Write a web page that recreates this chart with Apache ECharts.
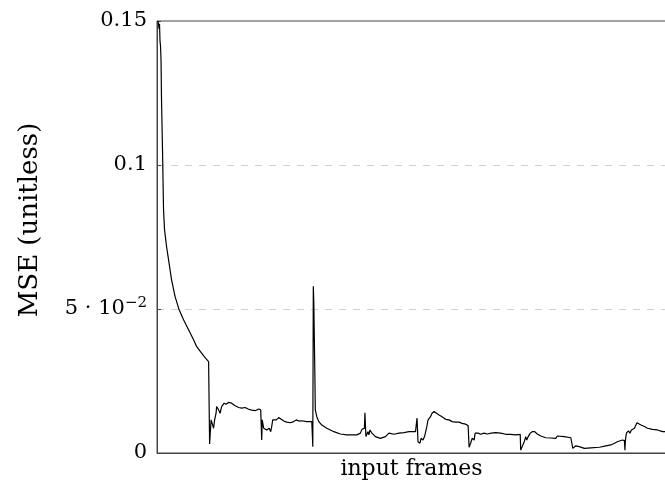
<!DOCTYPE html>
<html>
<head>
<meta charset="utf-8">
<script src="https://cdn.jsdelivr.net/npm/echarts@6/dist/echarts.min.js"></script>
<style>html,body{margin:0;padding:0;background:#fff}#c{width:665px;height:485px}</style>
</head>
<body>
<div id="c"></div>
<script>
// Frame index (horizontal position) and MSE value
const frames = [2,3,4,5,6,7,8,9,11,12,13,15,16,19,24,29,36,44,53,63,73,79,89,96,103,
105,108,111,113,115,118,119,123,126,129,131,134,138,143,146,149,156,163,169,176,183,189,196,203,207,
209,210,213,216,219,224,227,229,231,234,238,243,246,253,259,266,273,278,283,289,299,309,
311,312,313,315,316,319,323,329,339,353,366,379,399,406,409,414,415,417,421,423,425,429,436,446,456,463,473,483,493,503,516,
519,521,525,527,531,534,536,538,541,543,546,549,553,556,563,569,576,583,589,596,603,609,616,621,
623,626,629,633,635,637,641,646,653,659,667,669,676,686,696,706,716,725,
726,729,733,736,738,741,745,749,754,759,766,776,786,796,799,813,826,829,
830,833,836,843,853,866,883,886,896,906,909,919,929,933,934,935,937,939,941,944,947,950,953,955,958,961,966,973,979,989,999,1009,1016];
const mse = [0.1500,0.1490,0.1472,0.1490,0.1430,0.1413,0.1368,0.1228,0.1054,0.0950,0.0846,0.0776,0.0770,0.0718,0.0660,0.0602,0.0544,0.0498,0.0463,0.0428,0.0393,0.0370,0.0347,0.0331,0.0317,
0.0031,0.0115,0.0121,0.0086,0.0115,0.0139,0.0161,0.0150,0.0138,0.0161,0.0157,0.0173,0.0169,0.0176,0.0173,0.0173,0.0164,0.0158,0.0156,0.0158,0.0152,0.0149,0.0147,0.0153,0.0150,
0.0045,0.0115,0.0086,0.0092,0.0080,0.0086,0.0074,0.0092,0.0115,0.0109,0.0115,0.0123,0.0117,0.0111,0.0107,0.0105,0.0109,0.0115,0.0111,0.0112,0.0109,0.0109,
0.0022,0.0579,0.0521,0.0289,0.0150,0.0126,0.0109,0.0097,0.0086,0.0074,0.0066,0.0063,0.0063,0.0069,0.0082,0.0086,0.0140,0.0057,0.0074,0.0063,0.0080,0.0069,0.0057,0.0051,0.0057,0.0069,0.0065,0.0069,0.0071,0.0074,0.0074,
0.0121,0.0039,0.0034,0.0051,0.0045,0.0057,0.0063,0.0086,0.0115,0.0121,0.0126,0.0138,0.0144,0.0138,0.0132,0.0126,0.0117,0.0115,0.0109,0.0107,0.0107,0.0103,0.0100,0.0095,
0.0020,0.0034,0.0051,0.0045,0.0069,0.0065,0.0069,0.0065,0.0069,0.0066,0.0069,0.0072,0.0071,0.0069,0.0065,0.0065,0.0063,0.0065,
0.0010,0.0016,0.0039,0.0057,0.0045,0.0057,0.0069,0.0074,0.0074,0.0066,0.0059,0.0053,0.0052,0.0051,0.0059,0.0057,0.0053,0.0053,
0.0016,0.0022,0.0025,0.0022,0.0016,0.0018,0.0020,0.0024,0.0025,0.0028,0.0034,0.0039,0.0045,0.0043,0.0010,0.0045,0.0069,0.0063,0.0077,0.0069,0.0080,0.0074,0.0086,0.0080,0.0105,0.0103,0.0097,0.0092,0.0086,0.0082,0.0080,0.0074,0.0074];
const yTicks = [0, 0.05, 0.1, 0.15];
const yTickLabels = ['0', '5 · 10', '0.1', '0.15'];
const xName = 'input frames';
const yName = 'MSE (unitless)';

const FONT = 'DejaVu Serif';
const chart = echarts.init(document.getElementById('c'), null, {renderer: 'canvas'});
const data = frames.map((f, i) => [f, mse[i]]);
chart.setOption({
  animation: false,
  backgroundColor: '#fff',
  grid: {left: 157, right: -1, top: 21, bottom: 32, containLabel: false, outerBoundsMode: 'none',
         show: true, borderColor: '#444', borderWidth: 1},
  xAxis: {
    type: 'value', min: 0, max: 1016,
    name: xName, nameLocation: 'middle', nameGap: 5,
    nameTextStyle: {fontFamily: FONT, fontSize: 22, color: '#000'},
    axisLine: {show: true, lineStyle: {color: '#444', width: 1}},
    axisTick: {show: false}, axisLabel: {show: false}, splitLine: {show: false}
  },
  yAxis: {
    type: 'value', min: 0, max: 0.15, interval: 0.05,
    name: yName, nameLocation: 'middle', nameGap: 114, nameRotate: 90,
    nameTextStyle: {fontFamily: FONT, fontSize: 26, color: '#000', padding: [0, 0, 0, 34]},
    axisLine: {show: true, lineStyle: {color: '#444', width: 1}},
    axisTick: {show: true, inside: true, length: 4, lineStyle: {color: '#444'}},
    axisLabel: {
      margin: 10, color: '#000', fontFamily: FONT, fontSize: 21,
      formatter: function (v) {
        const i = yTicks.findIndex(t => Math.abs(t - v) < 1e-9);
        if (i === 1) return '{b|' + yTickLabels[1] + '}{sup|−2}';
        return '{b|' + (i >= 0 ? yTickLabels[i] : v) + '}';
      },
      rich: {
        b: {fontFamily: FONT, fontSize: 21, color: '#000'},
        sup: {fontFamily: FONT, fontSize: 15, color: '#000', padding: [0, 0, 11, 0]}
      }
    },
    splitLine: {show: true, showMinLine: false, showMaxLine: false,
                lineStyle: {color: '#d0d0d0', type: [7, 7], width: 1}}
  },
  series: [{
    type: 'line', data: data, showSymbol: false, symbol: 'none',
    lineStyle: {color: '#000', width: 1.2}, itemStyle: {color: '#000'}
  }]
});
</script>
</body>
</html>
